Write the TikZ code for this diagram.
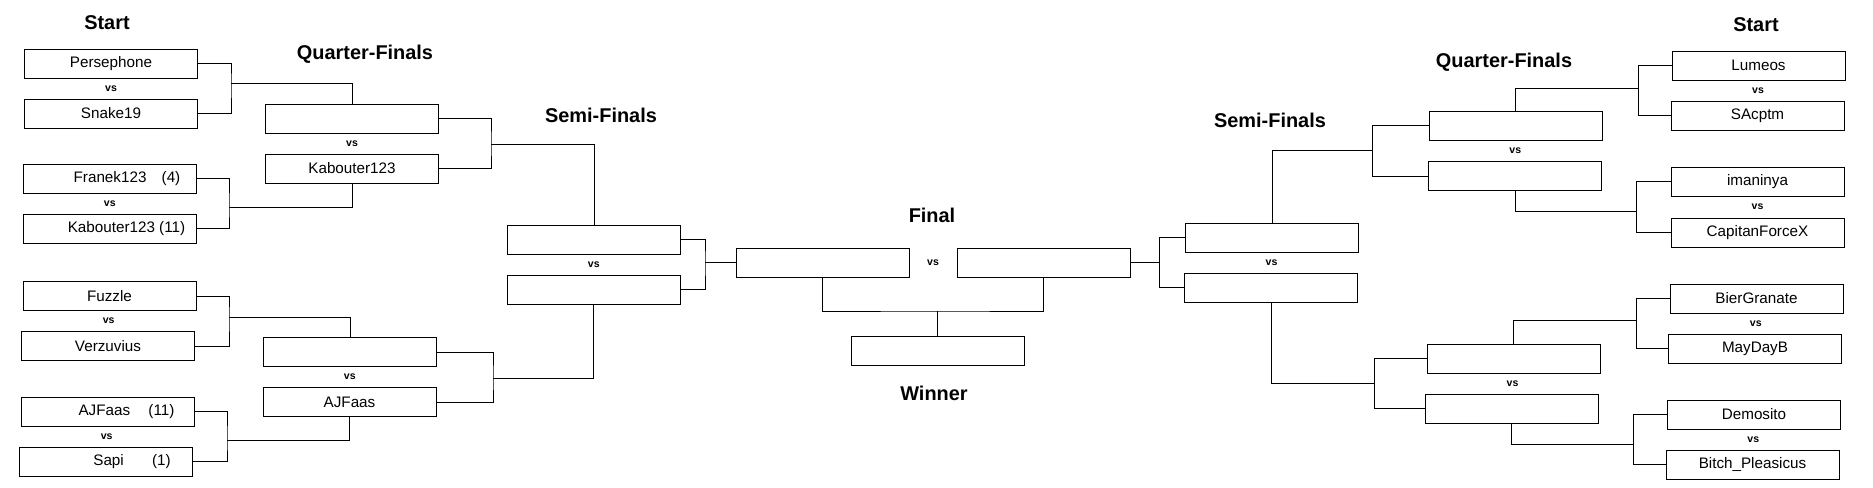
\documentclass[tikz,border=0pt]{standalone}
\usepackage{fontspec}
\setmainfont{Liberation Sans}
\usepackage{tikz}
\usetikzlibrary{calc}

\begin{document}
\begin{tikzpicture}[x=0.3mm, y=-0.3mm, line width=0.75pt,
    box/.style={draw, minimum width=51.9mm, minimum height=8.7mm, inner sep=0pt,
      font=\fontsize{13}{15}\selectfont},
    stage/.style={font=\fontsize{17}{20}\selectfont\bfseries},
    vslabel/.style={font=\fontsize{9}{10}\selectfont\bfseries}]
  \useasboundingbox (0,0) rectangle (1873,487);
  % ------- boxes: start, quarter, semi, final -------
  \foreach \n/\x/\y/\t in {pers/111/63.5/Persephone, snake/111/113.5/Snake19,
      franek/110/178.5/{\hspace{10.2mm}Franek123\hspace{1em}(4)},
      kabL/109.5/228.5/{\hspace{10.2mm}Kabouter123 (11)},
      fuzzle/109.5/296/Fuzzle, verz/108/346/Verzuvius,
      ajfL/107.5/411.5/{\hspace{11.4mm}AJFaas\hspace{1.2em}(11)},
      sapi/106/461.5/{\hspace{15.6mm}Sapi\hspace{1.85em}(1)},
      qf1/352/118.5/{}, qf2/352/168.5/Kabouter123, qf3/350/352/{}, qf4/349.5/402/AJFaas,
      sf1/594/239.5/{}, sf2/593.5/289.5/{},
      finL/822.5/262.5/{}, finR/1043.5/262.5/{}, win/937.5/350.5/{},
      sf3/1272/237.5/{}, sf4/1271/287.5/{},
      qf5/1515.5/125.5/{}, qf6/1515/176/{}, qf7/1513.5/358.5/{}, qf8/1511.5/408.5/{},
      lum/1758.5/65.5/Lumeos, sac/1757.5/115.5/SAcptm,
      iman/1757.5/181.5/imaninya, cap/1757.5/232.5/CapitanForceX,
      bier/1756.5/298.5/BierGranate, may/1755/348.5/MayDayB,
      demo/1754/414.5/Demosito, bitch/1752.5/464.5/Bitch\_Pleasicus}
    \node[box] (\n) at (\x,\y) {\t};
  % vs between the two boxes of a match
  \foreach \a/\b in {pers/snake, franek/kabL, fuzzle/verz, ajfL/sapi, qf1/qf2, qf3/qf4,
      sf1/sf2, finL/finR, sf3/sf4, qf5/qf6, qf7/qf8, lum/sac, iman/cap, bier/may, demo/bitch}
    \node[vslabel] at ($(\a)!.5!(\b)$) {vs};
  % ------- brackets -------
  \foreach \n/\x/\y in {j1/231/83, j2/229/207, j3/229/317, j4/227/440, j5/491/144, j6/493/378,
      j7/705/262.5, j8/937.5/311, j9/1159/262.5, j10/1372/150, j11/1374/383,
      j12/1638/88, j13/1636/211, j14/1636/320, j15/1633/444}
    \coordinate (\n) at (\x,\y);
  \foreach \a/\b/\j/\c/\e/\s in {pers/snake/j1/qf1/east/north, franek/kabL/j2/qf2/east/south,
      fuzzle/verz/j3/qf3/east/north, ajfL/sapi/j4/qf4/east/south,
      qf1/qf2/j5/sf1/east/north, qf3/qf4/j6/sf2/east/south,
      qf5/qf6/j10/sf3/west/north, qf7/qf8/j11/sf4/west/south,
      lum/sac/j12/qf5/west/north, iman/cap/j13/qf6/west/south,
      bier/may/j14/qf7/west/north, demo/bitch/j15/qf8/west/south}
  {
    \draw (\a.\e) -| (\j) |- (\b.\e);
    \draw (\j) -| (\c.\s);
  }
  \draw (sf1.east) -| (j7) |- (sf2.east);
  \draw (j7) -- (finL.west);
  \draw (sf3.west) -| (j9) |- (sf4.west);
  \draw (j9) -- (finR.east);
  \draw (finL.south) |- (j8) -| (finR.south);
  \draw (j8) -- (win.north);
  % ------- round titles -------
  \node[stage] at (107,23) {Start};
  \node[stage] at (365,54) {Quarter-Finals};
  \node[stage] at (601,115) {Semi-Finals};
  \node[stage] at (932,215) {Final};
  \node[stage] at (934,393) {Winner};
  \node[stage] at (1270,120) {Semi-Finals};
  \node[stage] at (1504,62) {Quarter-Finals};
  \node[stage] at (1756,25) {Start};
\end{tikzpicture}
\end{document}
